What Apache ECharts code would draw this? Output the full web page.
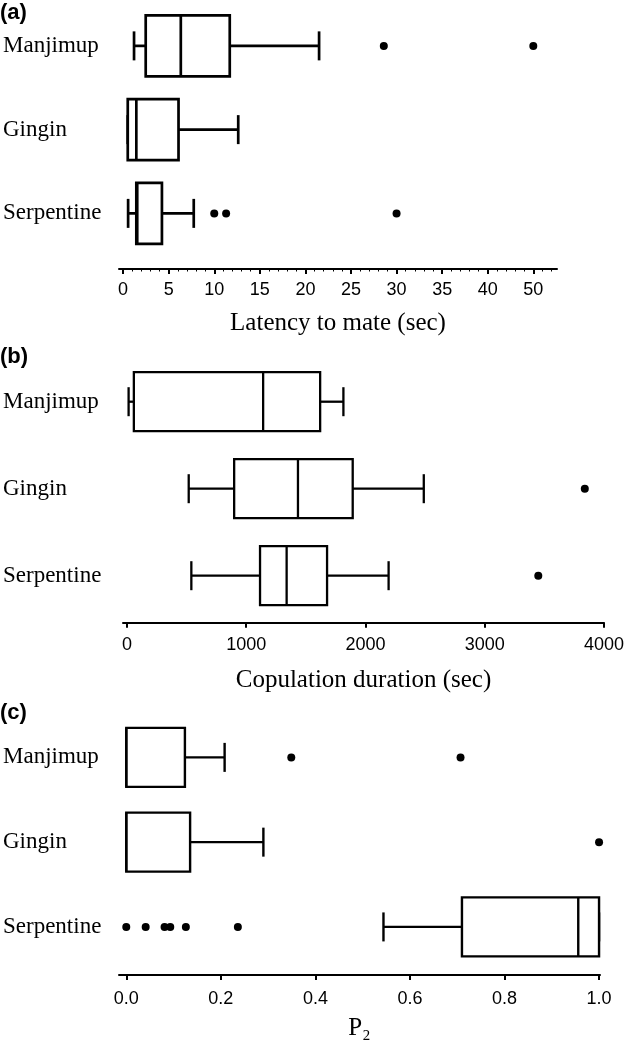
<!DOCTYPE html>
<html>
<head>
<meta charset="utf-8">
<script src="https://cdn.jsdelivr.net/npm/echarts@6/dist/echarts.min.js"></script>
<style>
html,body{margin:0;padding:0;background:#fff;}
#c{width:628px;height:1045px;}
</style>
</head>
<body>
<div id="c"></div>
<script>
// ---- data ----
var categories = ['Manjimup', 'Gingin', 'Serpentine'];
// [min, Q1, median, Q3, max]
var latencyBox = [
  [1.2, 2.48, 6.33, 11.7, 21.5],
  [0.51, 0.51, 1.45, 6.08, 12.63],
  [0.55, 1.45, 1.55, 4.26, 7.75]
];
var latencyOutliers = [
  ['Manjimup', 28.6], ['Manjimup', 49.5],
  ['Serpentine', 10.0], ['Serpentine', 11.3], ['Serpentine', 30.0]
];
var durationBox = [
  [14, 58, 1142, 1620, 1815],
  [518, 899, 1434, 1893, 2489],
  [540, 1116, 1339, 1678, 2194]
];
var durationOutliers = [
  ['Gingin', 3839], ['Serpentine', 3449]
];
var p2Box = [
  [0, 0, 0, 0.124, 0.208],
  [0, 0, 0, 0.135, 0.29],
  [0.544, 0.71, 0.956, 1.0, 1.0]
];
var p2Outliers = [
  ['Manjimup', 0.349], ['Manjimup', 0.707],
  ['Gingin', 1.0],
  ['Serpentine', 0.0], ['Serpentine', 0.041], ['Serpentine', 0.081],
  ['Serpentine', 0.093], ['Serpentine', 0.126], ['Serpentine', 0.236]
];
var latencyTicks = [0, 5, 10, 15, 20, 25, 30, 35, 40, 50];
var latencyMinorTicks = [1, 2, 3, 4, 6, 7, 8, 9, 11, 12, 13, 14, 16, 17, 18, 19, 21, 22, 23, 24,
  26, 27, 28, 29, 31, 32, 33, 34, 36, 37, 38, 39, 41, 42, 43, 44, 51, 52];
var durationTicks = [0, 1000, 2000, 3000, 4000];
var p2Ticks = [0, 0.2, 0.4, 0.6, 0.8, 1.0];
var panelLabels = ['(a)', '(b)', '(c)'];
var axisNames = ['Latency to mate (sec)', 'Copulation duration (sec)', 'P\u2082'];

// ---- layout ----
var grids = [
  {left: 117, right: 71, top: 4, height: 251.25},
  {left: 121, right: 24, top: 358.2, height: 261},
  {left: 117, right: 28, top: 715, height: 254.3}
];
var offsets = [13.75, 3.5, 5.7];
var ranges = [[-0.45, 52.6], [-33, 4000], [-0.0154, 1.002]];
var tickSets = [latencyTicks, durationTicks, p2Ticks];
var labelMargins = [12, 13, 15];
var nameGaps = [42, 45, 41];
var boxHeights = [61, 59, 59];
var capHeight = 29;
var lineWidths = [2.7, 2.3, 2.4];
var titleTops = [2, 346, 702];

var serif = 'Liberation Serif, Times New Roman, serif';
var sans = 'Liberation Sans, Arial, sans-serif';

var xAxes = [], yAxes = [], series = [], titles = [];
var boxSets = [latencyBox, durationBox, p2Box];
var outSets = [latencyOutliers, durationOutliers, p2Outliers];

function makeRender(bh, lw) {
  return function (params, api) {
    var c = api.value(0);
    var p = [1, 2, 3, 4, 5].map(function (k) { return api.coord([api.value(k), c]); });
    var y = p[0][1];
    var st = {stroke: '#000', lineWidth: lw, fill: null};
    function vline(x, h) {
      return {type: 'line', shape: {x1: x, y1: y - h / 2, x2: x, y2: y + h / 2}, style: st};
    }
    function hline(x1, x2) {
      return {type: 'line', shape: {x1: x1, y1: y, x2: x2, y2: y}, style: st};
    }
    return {
      type: 'group',
      children: [
        hline(p[0][0], p[1][0]),
        hline(p[3][0], p[4][0]),
        vline(p[0][0], capHeight),
        vline(p[4][0], capHeight),
        {type: 'rect', shape: {x: p[1][0], y: y - bh / 2, width: p[3][0] - p[1][0], height: bh},
         style: {fill: '#fff', stroke: '#000', lineWidth: lw}},
        vline(p[2][0], bh)
      ]
    };
  };
}

for (var i = 0; i < 3; i++) {
  var xa = {
    gridIndex: i, type: 'value', min: ranges[i][0], max: ranges[i][1],
    offset: offsets[i],
    axisLine: {show: true, onZero: false, lineStyle: {color: '#000', width: 2}},
    axisTick: {show: true, length: 5, customValues: tickSets[i], lineStyle: {color: '#000', width: 2}},
    axisLabel: {
      customValues: tickSets[i], margin: labelMargins[i],
      fontFamily: sans, fontSize: 18, color: '#000',
      formatter: (function (idx) {
        return function (v) { return idx === 2 ? Number(v).toFixed(1) : String(v); };
      })(i)
    },
    splitLine: {show: false},
    name: axisNames[i], nameLocation: 'middle', nameGap: nameGaps[i],
    nameTextStyle: {fontFamily: serif, fontSize: 25, color: '#000'}
  };
  if (i === 0) {
    xa.breaks = [{start: 45, end: 50, gap: 0}];
    xa.breakArea = {show: false};
  }
  xAxes.push(xa);
  yAxes.push({
    gridIndex: i, type: 'category', data: categories, inverse: true,
    axisLine: {show: false}, axisTick: {show: false}, splitLine: {show: false},
    axisLabel: {align: 'left', margin: grids[i].left - 1, fontFamily: serif, fontSize: 23, color: '#000'}
  });
  series.push({
    type: 'custom', xAxisIndex: i, yAxisIndex: i, silent: true,
    data: boxSets[i].map(function (b, k) { return [k].concat(b); }),
    encode: {y: 0, x: [1, 2, 3, 4, 5]},
    renderItem: makeRender(boxHeights[i], lineWidths[i])
  });
  series.push({
    type: 'scatter', xAxisIndex: i, yAxisIndex: i, silent: true,
    data: outSets[i].map(function (d) { return [d[1], d[0]]; }),
    symbol: 'circle', symbolSize: 8, itemStyle: {color: '#000', opacity: 1}, z: 5
  });
  titles.push({
    text: panelLabels[i], left: 0, top: titleTops[i], padding: 0,
    textStyle: {fontFamily: sans, fontWeight: 'bold', fontSize: 22, color: '#000'}
  });
}

// secondary axis in panel (a) carrying only the small minor ticks
xAxes.push({
  gridIndex: 0, type: 'value', min: ranges[0][0], max: ranges[0][1],
  offset: offsets[0], position: 'bottom',
  breaks: [{start: 45, end: 50, gap: 0}], breakArea: {show: false},
  axisLine: {show: false},
  axisTick: {show: true, length: 2.5, customValues: latencyMinorTicks, lineStyle: {color: '#000', width: 1}},
  axisLabel: {show: false}, splitLine: {show: false}
});

var chart = echarts.init(document.getElementById('c'), null, {renderer: 'canvas'});
chart.setOption({
  animation: false,
  backgroundColor: '#fff',
  title: titles,
  grid: grids,
  xAxis: xAxes,
  yAxis: yAxes,
  tooltip: {show: false},
  series: series
});
</script>
</body>
</html>
